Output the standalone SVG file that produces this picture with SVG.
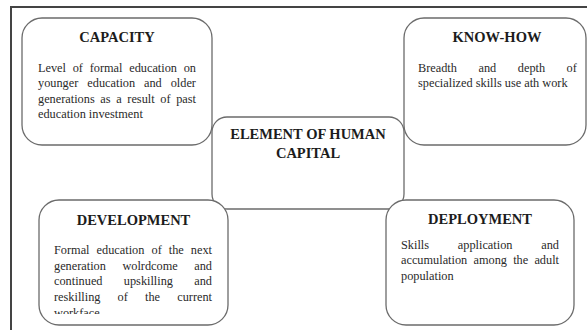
<svg xmlns="http://www.w3.org/2000/svg" width="587" height="330" viewBox="0 0 587 330">
  <style>
    .box { fill: #ffffff; stroke: #6b6b6b; stroke-width: 1.3; }
    .frame { fill: none; stroke: #444444; stroke-width: 2; }
    .title { font-family: "Liberation Serif", "Times New Roman", serif; font-size: 14.5px; font-weight: bold; fill: #1c1c1c; text-anchor: middle; }
    .body { font-family: "Liberation Serif", "Times New Roman", serif; font-size: 12.3px; fill: #2a2a2a; }
    .end { text-anchor: end; }
  </style>
  <defs>
    <clipPath id="devClip">
      <rect x="40" y="200" width="187" height="114"/>
    </clipPath>
  </defs>
  <rect class="frame" x="11" y="7" width="600" height="340"/>

  <g id="connectors"></g>

  <g id="element-of-human-capital">
    <rect class="box" x="212" y="117" width="192" height="92" rx="15" ry="15"/>
    <text class="title" x="308" y="139">ELEMENT OF HUMAN</text>
    <text class="title" x="308" y="158">CAPITAL</text>
  </g>

  <g id="capacity">
    <rect class="box" x="22" y="18" width="190" height="127" rx="20" ry="20"/>
    <text class="title" x="117" y="42">CAPACITY</text>
    <text class="body" y="72"><tspan x="38">Level</tspan><tspan x="72.7">of</tspan><tspan x="89.7">formal</tspan><tspan x="129.2">education</tspan><tspan x="183.7">on</tspan></text>
    <text class="body" y="87.3"><tspan x="38">younger</tspan><tspan x="87.3">education</tspan><tspan x="144">and</tspan><tspan x="170.7">older</tspan></text>
    <text class="body" y="102.6"><tspan x="38">generations</tspan><tspan x="100.3">as</tspan><tspan x="116.2">a</tspan><tspan x="127.3">result</tspan><tspan x="160.3">of</tspan><tspan x="176.2">past</tspan></text>
    <text class="body" x="38" y="118">education investment</text>
  </g>

  <g id="know-how">
    <rect class="box" x="404" y="18" width="182" height="127" rx="20" ry="20"/>
    <text class="title" x="497" y="42">KNOW-HOW</text>
    <text class="body" y="72"><tspan x="418">Breadth</tspan><tspan x="478.5">and</tspan><tspan x="517.8">depth</tspan><tspan x="566.5">of</tspan></text>
    <text class="body" x="418" y="87.3">specialized skills use ath work</text>
  </g>

  <g id="development">
    <rect class="box" x="39" y="200" width="189" height="125" rx="20" ry="20"/>
    <text class="title" x="133.5" y="225">DEVELOPMENT</text>
    <g clip-path="url(#devClip)">
      <text class="body" y="254"><tspan x="54">Formal</tspan><tspan x="96.6">education</tspan><tspan x="151.5">of</tspan><tspan x="168.8">the</tspan><tspan x="190.8">next</tspan></text>
      <text class="body" y="269.7"><tspan x="54">generation</tspan><tspan x="122.4">wolrdcome</tspan><tspan x="194.2">and</tspan></text>
      <text class="body" y="285.4"><tspan x="54">continued</tspan><tspan x="123.8">upskilling</tspan><tspan x="194.2">and</tspan></text>
      <text class="body" y="301"><tspan x="54">reskilling</tspan><tspan x="117.6">of</tspan><tspan x="145">the</tspan><tspan x="177.2">current</tspan></text>
      <text class="body" x="54" y="316.7">workface</text>
    </g>
  </g>

  <g id="deployment">
    <rect class="box" x="386" y="200" width="188" height="125" rx="20" ry="20"/>
    <text class="title" x="480" y="224">DEPLOYMENT</text>
    <text class="body" y="249"><tspan x="401">Skills</tspan><tspan x="457.8">application</tspan><tspan x="541.2">and</tspan></text>
    <text class="body" y="264.3"><tspan x="401">accumulation</tspan><tspan x="473.5">among</tspan><tspan x="513.2">the</tspan><tspan x="534.4">adult</tspan></text>
    <text class="body" x="401" y="279.6">population</text>
  </g>
</svg>
